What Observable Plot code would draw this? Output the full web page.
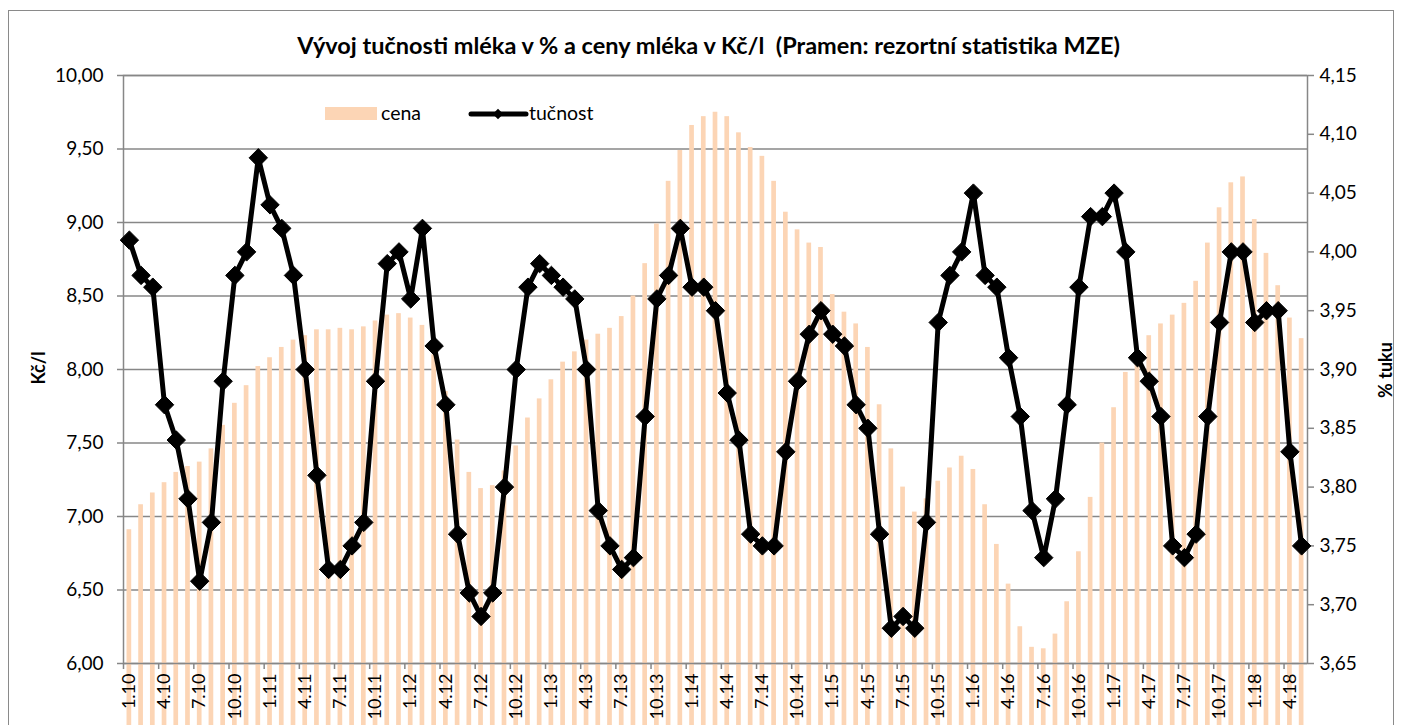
<!DOCTYPE html>
<html>
<head>
<meta charset="utf-8">
<script src="https://cdn.jsdelivr.net/npm/d3@7"></script>
<script src="https://cdn.jsdelivr.net/npm/@observablehq/plot@0.6"></script>
<style>
  html, body { margin: 0; padding: 0; background: #fff; }
  body { position: relative; width: 1402px; height: 725px; overflow: hidden; font-family: Lato, "Liberation Sans", sans-serif; color: #000; }
  #frame { position: absolute; left: 8px; top: 10px; width: 1386px; height: 760px; border: 1.5px solid #8a8a8a; box-sizing: border-box; }
  .layer { position: absolute; left: 0; top: 0; }
  #title { position: absolute; left: 0; top: 31px; width: 1417px; text-align: center; font-weight: bold; font-size: 23.5px; white-space: pre; }
  .ytitle { position: absolute; font-weight: bold; font-size: 18px; white-space: pre; transform: translate(-50%, -50%) rotate(-90deg); }
  #legend { position: absolute; left: 0; top: 0; }
</style>
</head>
<body>
<div id="frame"></div>
<div id="chart1" class="layer"></div>
<div id="chart2" class="layer"></div>
<div id="title">Vývoj tučnosti mléka v % a ceny mléka v Kč/l  (Pramen: rezortní statistika MZE)</div>
<div class="ytitle" style="left:38px; top:368px;">Kč/l</div>
<div class="ytitle" style="left:1385px; top:370px;">% tuku</div>
<svg id="legend" width="700" height="140"></svg>
<script>
// ---- data ----
const months = [
  "1.10","2.10","3.10","4.10","5.10","6.10","7.10","8.10","9.10","10.10","11.10","12.10",
  "1.11","2.11","3.11","4.11","5.11","6.11","7.11","8.11","9.11","10.11","11.11","12.11",
  "1.12","2.12","3.12","4.12","5.12","6.12","7.12","8.12","9.12","10.12","11.12","12.12",
  "1.13","2.13","3.13","4.13","5.13","6.13","7.13","8.13","9.13","10.13","11.13","12.13",
  "1.14","2.14","3.14","4.14","5.14","6.14","7.14","8.14","9.14","10.14","11.14","12.14",
  "1.15","2.15","3.15","4.15","5.15","6.15","7.15","8.15","9.15","10.15","11.15","12.15",
  "1.16","2.16","3.16","4.16","5.16","6.16","7.16","8.16","9.16","10.16","11.16","12.16",
  "1.17","2.17","3.17","4.17","5.17","6.17","7.17","8.17","9.17","10.17","11.17","12.17",
  "1.18","2.18","3.18","4.18","5.18"
];

const cena = [
  6.91, 7.08, 7.16, 7.23, 7.30, 7.34, 7.37, 7.46, 7.62, 7.77, 7.89, 8.02,
  8.08, 8.15, 8.20, 8.23, 8.27, 8.27, 8.28, 8.27, 8.29, 8.33, 8.37, 8.38,
  8.35, 8.30, 8.10, 7.85, 7.52, 7.30, 7.19, 7.21, 7.31, 7.48, 7.67, 7.80,
  7.93, 8.05, 8.12, 8.20, 8.24, 8.28, 8.36, 8.50, 8.72, 8.99, 9.28, 9.49,
  9.66, 9.72, 9.75, 9.72, 9.61, 9.51, 9.45, 9.28, 9.07, 8.95, 8.86, 8.83,
  8.51, 8.39, 8.31, 8.15, 7.76, 7.46, 7.20, 7.03, 7.12, 7.24, 7.33, 7.41,
  7.32, 7.08, 6.81, 6.54, 6.25, 6.11, 6.10, 6.20, 6.42, 6.76, 7.13, 7.50,
  7.74, 7.98, 8.11, 8.23, 8.31, 8.37, 8.45, 8.60, 8.86, 9.10, 9.27, 9.31,
  9.02, 8.79, 8.57, 8.35, 8.21
];

const tucnost = [
  4.01, 3.98, 3.97, 3.87, 3.84, 3.79, 3.72, 3.77, 3.89, 3.98, 4.00, 4.08,
  4.04, 4.02, 3.98, 3.90, 3.81, 3.73, 3.73, 3.75, 3.77, 3.89, 3.99, 4.00,
  3.96, 4.02, 3.92, 3.87, 3.76, 3.71, 3.69, 3.71, 3.80, 3.90, 3.97, 3.99,
  3.98, 3.97, 3.96, 3.90, 3.78, 3.75, 3.73, 3.74, 3.86, 3.96, 3.98, 4.02,
  3.97, 3.97, 3.95, 3.88, 3.84, 3.76, 3.75, 3.75, 3.83, 3.89, 3.93, 3.95,
  3.93, 3.92, 3.87, 3.85, 3.76, 3.68, 3.69, 3.68, 3.77, 3.94, 3.98, 4.00,
  4.05, 3.98, 3.97, 3.91, 3.86, 3.78, 3.74, 3.79, 3.87, 3.97, 4.03, 4.03,
  4.05, 4.00, 3.91, 3.89, 3.86, 3.75, 3.74, 3.76, 3.86, 3.94, 4.00, 4.00,
  3.94, 3.95, 3.95, 3.83, 3.75
];

const xTickLabels = [
  "1.10","4.10","7.10","10.10","1.11","4.11","7.11","10.11","1.12","4.12","7.12","10.12",
  "1.13","4.13","7.13","10.13","1.14","4.14","7.14","10.14","1.15","4.15","7.15","10.15",
  "1.16","4.16","7.16","10.16","1.17","4.17","7.17","10.17","1.18","4.18"
];
const cenaTicks = [6.0, 6.5, 7.0, 7.5, 8.0, 8.5, 9.0, 9.5, 10.0];
const tukTicks = [3.65, 3.70, 3.75, 3.80, 3.85, 3.90, 3.95, 4.00, 4.05, 4.10, 4.15];

const seriesNames = ["cena", "tučnost"];

// ---- build ----
const data = months.map((m, i) => ({month: m, cena: cena[i], tuk: tucnost[i]}));
const fmt2 = d => d.toFixed(2).replace(".", ",");

const W = 1402, H = 725;
const mL = 123, mR = 95, mT = 75, mB = 62;
const step = (W - mL - mR) / months.length;
const GRID = "#878787";
const FONT = "Lato, 'Liberation Sans', sans-serif";

const common = {
  width: W, height: H,
  marginLeft: mL, marginRight: mR, marginTop: mT, marginBottom: mB,
  x: {type: "band", domain: months, paddingInner: 0.6, paddingOuter: 0.3, axis: null},
  style: {fontFamily: FONT, fontSize: "18px", color: "#000", background: "transparent", overflow: "visible"}
};

const p1 = Plot.plot({
  ...common,
  y: {domain: [6, 10], axis: null},
  marks: [
    Plot.gridY(cenaTicks, {stroke: GRID, strokeOpacity: 1, strokeWidth: 1.5}),
    Plot.barY(data, {x: "month", y: "cena", fill: "#FCD5B5"}),
    Plot.frame({stroke: GRID, strokeWidth: 1.5}),
    Plot.axisY(cenaTicks, {anchor: "left", tickFormat: fmt2, tickSize: 6, tickPadding: 14,
      stroke: GRID, strokeWidth: 1.5, fill: "#000", fontSize: 19, label: null}),
    Plot.axisX(xTickLabels, {anchor: "bottom", tickSize: 0, tickRotate: -90, tickPadding: 10,
      fill: "#000", fontSize: 18, label: null}),
    Plot.axisX(xTickLabels, {anchor: "bottom", tickSize: 6, fill: "none", stroke: GRID,
      strokeWidth: 1.5, dx: -step / 2, label: null})
  ]
});
document.getElementById("chart1").appendChild(p1);

const p2 = Plot.plot({
  ...common,
  y: {domain: [3.65, 4.15], axis: null},
  marks: [
    Plot.axisY(tukTicks, {anchor: "right", tickFormat: fmt2, tickSize: 6, tickPadding: 6,
      stroke: GRID, strokeWidth: 1.5, fill: "#000", fontSize: 19, label: null}),
    Plot.line(data, {x: "month", y: "tuk", stroke: "#000", strokeWidth: 5, strokeLinejoin: "round"}),
    Plot.dot(data, {x: "month", y: "tuk", symbol: "diamond2", r: 8.3, fill: "#000", stroke: "#000", strokeWidth: 1})
  ]
});
document.getElementById("chart2").appendChild(p2);

// ---- legend ----
const lg = d3.select("#legend");
lg.append("rect").attr("x", 325).attr("y", 107).attr("width", 52).attr("height", 13).attr("fill", "#FCD5B5");
lg.append("text").attr("x", 381).attr("y", 120).attr("font-family", FONT).attr("font-size", 19.5).text(seriesNames[0]);
lg.append("line").attr("x1", 471).attr("x2", 526).attr("y1", 114).attr("y2", 114)
  .attr("stroke", "#000").attr("stroke-width", 5).attr("stroke-linecap", "round");
lg.append("path").attr("d", d3.symbol(d3.symbolDiamond2, 70)()).attr("transform", "translate(498,114)").attr("fill", "#000");
lg.append("text").attr("x", 529).attr("y", 120).attr("font-family", FONT).attr("font-size", 19.5).text(seriesNames[1]);
</script>
</body>
</html>
